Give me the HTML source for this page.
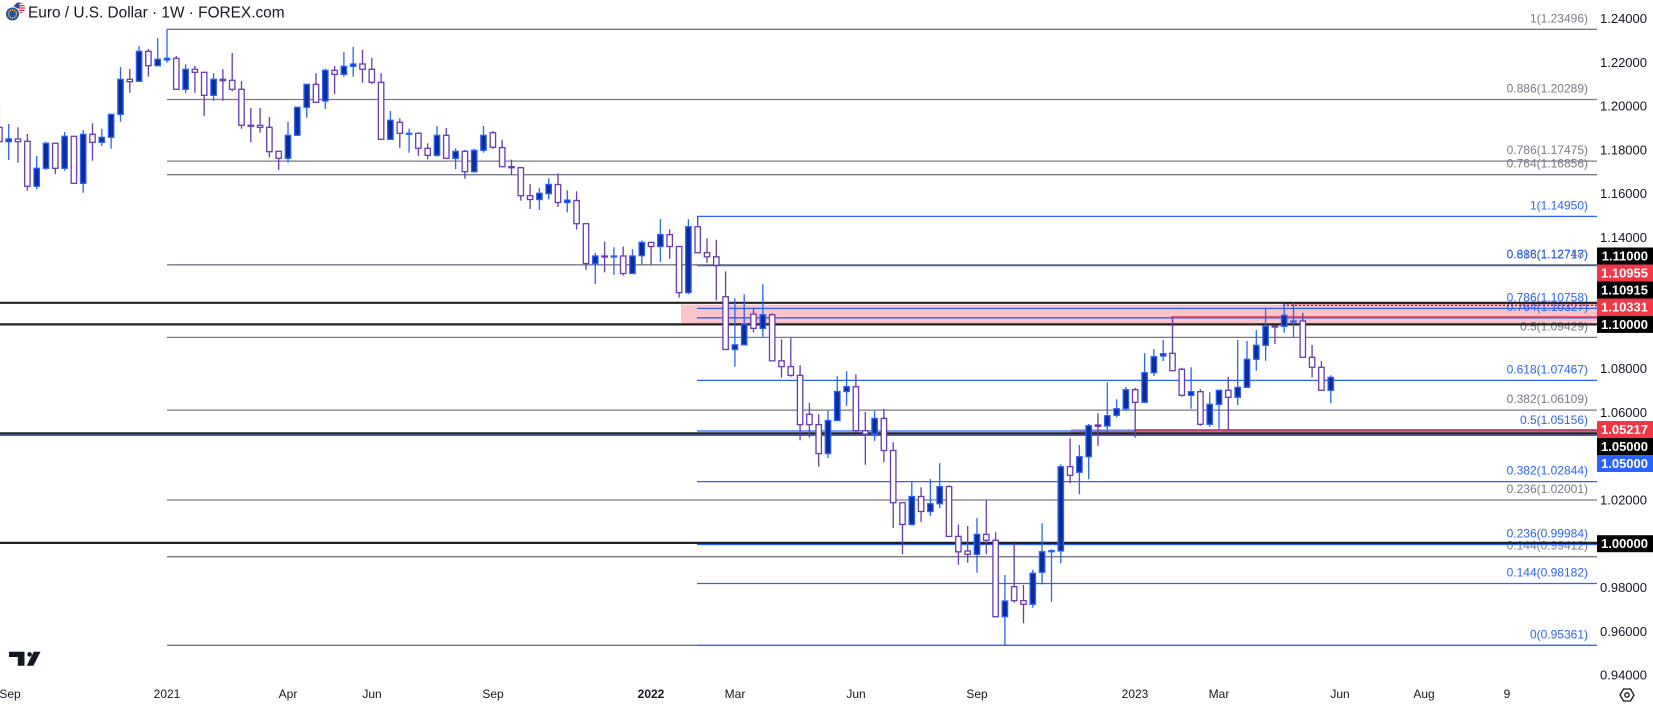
<!DOCTYPE html>
<html><head><meta charset="utf-8"><style>
html,body{margin:0;padding:0;background:#fff;overflow:hidden}
svg{display:block}
text{font-family:"Liberation Sans",sans-serif}
</style></head><body>
<svg width="1653" height="706" viewBox="0 0 1653 706" xmlns="http://www.w3.org/2000/svg">
<rect width="1653" height="706" fill="#fff"/>
<defs><clipPath id="us"><circle cx="19.5" cy="8" r="5.6"/></clipPath></defs>

<!-- pink zones -->
<rect x="681" y="304.5" width="916" height="19.5" fill="#fbc4ca"/>
<rect x="1071" y="429" width="526" height="6.3" fill="#f5aab3"/>

<!-- fib labels -->
<g font-size="12" text-anchor="end" fill="#787b86">
<text x="1588" y="22.3">1(1.23496)</text>
<text x="1588" y="92.5">0.886(1.20289)</text>
<text x="1588" y="154.1">0.786(1.17475)</text>
<text x="1588" y="167.7">0.764(1.16856)</text>
<text x="1588" y="257.8">0.618(1.12748)</text>
<text x="1588" y="330.4">0.5(1.09429)</text>
<text x="1588" y="403.1">0.382(1.06109)</text>
<text x="1588" y="493">0.236(1.02001)</text>
<text x="1588" y="549.7">0.144(0.99412)</text>
</g>
<g font-size="12" text-anchor="end" fill="#2962ff">
<text x="1588" y="209.4">1(1.14950)</text>
<text x="1588" y="258.5">0.886(1.12717)</text>
<text x="1588" y="301.4">0.786(1.10758)</text>
<text x="1588" y="310.8">0.764(1.10327)</text>
<text x="1588" y="373.4">0.618(1.07467)</text>
<text x="1588" y="424">0.5(1.05156)</text>
<text x="1588" y="474.6">0.382(1.02844)</text>
<text x="1588" y="537.4">0.236(0.99984)</text>
<text x="1588" y="576.5">0.144(0.98182)</text>
<text x="1588" y="638.3">0(0.95361)</text>
</g>

<!-- gray fib lines -->
<g stroke="#787b86" stroke-width="1.3">
<path d="M167 29.3H1597M167 99.5H1597M167 161.1H1597M167 174.7H1597M167 264.8H1597M167 337.4H1597M167 410.1H1597M167 500H1597M167 556.7H1597M167 645.3H697"/>
</g>
<!-- blue fib lines -->
<g stroke="#2962ff" stroke-width="1.3">
<path d="M697 216.4H1597M697 265.6H1597M697 308.4H1597M697 317.8H1597M697 380.4H1597M697 431H1597M697 481.6H1597M697 544.5H1597M697 583.5H1597M697 645.3H1597"/>
<path d="M0 435.3H1597"/>
</g>
<!-- red lines -->
<path d="M1171 316.9H1597" stroke="#f23645" stroke-width="1.3"/>
<path d="M1283 303.6H1597" stroke="#f23645" stroke-width="1.2"/>
<path d="M1283 305.4H1597" stroke="#8a2b33" stroke-width="1.3" stroke-dasharray="2 2"/>
<path d="M1135 429.9H1597" stroke="#f23645" stroke-width="1.6"/>
<!-- black horizontal lines -->
<g stroke="#222" stroke-width="2.2">
<path d="M0 302.8H1597M0 324.4H1597M0 433.4H1597M0 542.9H1597"/>
</g>

<!-- candles: wicks -->
<path fill="none" stroke="#2962ff" stroke-width="1.3" d="M8.7 124V160M36.7 156V189.3M46 141.7V170M64.6 132V170.7M83.2 130V192.7M101.8 128.7V146M111.1 114V148.7M120.5 67V121.7M139.1 46V81.3M157.7 38V65.7M167 29.3V62.7M185.6 64.3V93.3M213.6 73.3V100.7M288 122V162.7M297.3 107.3V135.3M306.7 84V117.7M325.3 68.7V109M343.9 52V76.7M353.2 46.7V76.7M390.4 111V139.3M409.1 128.7V152.7M437 126V156.7M455.6 148.3V169.3M474.2 148.7V172.7M483.5 126V152.7M539.4 187.9V210M548.7 178.3V199.5M567.3 190.2V212.4M595.3 252.7V284M613.9 247.2V274.8M632.5 249.2V273.5M641.8 240.4V264.6M660.4 219.2V261.9M688.4 219.2V294.3M734.9 298.4V366.6M744.2 294.3V345.4M762.8 284.4V336.9M828 410.9V458M837.3 376.1V420.5M846.6 371.3V405.8M874.6 410.9V440.9M911.8 481.2V525.5M930.4 479.1V516M939.7 463.1V508.1M977 518V572.7M1004.9 575V646M1032.8 570V607.7M1042.1 523.3V584.3M1051.5 549.3V601.7M1060.8 464.3V563.3M1079.4 445V494.3M1088.7 424V479.3M1107.3 382.3V432.3M1116.6 399.3V417.3M1125.9 386.7V411.3M1144.6 353.3V403.3M1153.9 349V376M1163.2 340V361M1191.1 367.3V408.7M1209.7 392.3V426.7M1219 390V429M1237.7 340V405M1247 341V387.7M1256.3 330V370.7M1265.6 309V360.7M1284.2 304.3V332.7M1293.5 303.3V337.3M1330.8 375.3V403.3"/>
<path fill="none" stroke="#673ab7" stroke-width="1.3" d="M-0.6 102.7V153.3M18 127.3V162.7M27.4 134V190.7M55.3 143.3V174M73.9 136.3V183.7M92.5 123.3V160.7M129.8 69V92.7M148.4 49V76.7M176.3 56V89.3M194.9 66V92.7M204.2 72.3V115.7M222.9 69.3V100.7M232.2 53V91.3M241.5 81V128.7M250.8 108V142M260.1 108V132.7M269.4 117V157.3M278.7 151V170M316 73.3V102.3M334.6 66V94M362.5 50V82.7M371.8 58V84M381.1 73.3V139.3M399.8 118.3V147.7M418.4 132.3V155.7M427.7 143.3V159.3M446.3 128V158.7M464.9 150V178.7M492.9 131V148.7M502.2 139.8V166.7M511.5 159.6V174.9M520.8 166.7V200.8M530.1 184.1V209M558 173.2V207M576.6 191.3V229.5M586 223.7V269.7M604.6 241.7V272.4M623.2 246.5V275.5M651.1 242.4V264.6M669.7 229.5V258.8M679.1 246.5V297.7M697.7 216.9V252.7M707 238.3V262.9M716.3 239.7V300.4M725.6 271.4V349.5M753.5 308.6V332.5M772.2 313.4V360.8M781.5 339.3V377.8M790.8 337.9V376.8M800.1 365.2V440.2M809.4 402.7V437.5M818.7 414.3V466.5M855.9 374.4V432.4M865.3 412V464.8M883.9 408.9V462.4M893.2 442.3V527.9M902.5 502.7V554.2M921.1 487.3V522.1M949 485.3V536.4M958.4 524.5V564.7M967.7 526V562.7M986.3 500V554.3M995.6 532.3V616.7M1014.2 543.3V602.7M1023.5 585V623.3M1070.1 438.3V483.3M1098 413.3V445.7M1135.2 387.7V437.7M1172.5 316.7V370.7M1181.8 367.7V396.7M1200.4 389.3V425.7M1228.3 376.7V430M1274.9 325V344M1302.8 312.7V357.3M1312.1 345V377.3M1321.4 361V390.3"/>

<!-- blue (up) bodies -->
<g fill="#0d2c95" stroke="#2962ff" stroke-width="1.3">
<rect x="6" y="139" width="5.4" height="2.7"/>
<rect x="34" y="168.3" width="5.4" height="18"/>
<rect x="43.3" y="143.3" width="5.4" height="25"/>
<rect x="61.9" y="136.3" width="5.4" height="32"/>
<rect x="80.5" y="134.3" width="5.4" height="49"/>
<rect x="99.1" y="137.3" width="5.4" height="5"/>
<rect x="108.4" y="114.3" width="5.4" height="23"/>
<rect x="117.8" y="79.3" width="5.4" height="35"/>
<rect x="136.4" y="51.3" width="5.4" height="30"/>
<rect x="155" y="59.3" width="5.4" height="6.4"/>
<rect x="164.3" y="58.3" width="5.4" height="1.7"/>
<rect x="182.9" y="69.3" width="5.4" height="20"/>
<rect x="210.9" y="79.3" width="5.4" height="16"/>
<rect x="285.3" y="135.3" width="5.4" height="23"/>
<rect x="294.6" y="107.3" width="5.4" height="28"/>
<rect x="304" y="84.3" width="5.4" height="23"/>
<rect x="322.6" y="70.3" width="5.4" height="30.7"/>
<rect x="341.2" y="66.3" width="5.4" height="8"/>
<rect x="350.5" y="64" width="5.4" height="2.3"/>
<rect x="387.7" y="120.3" width="5.4" height="19"/>
<rect x="406.4" y="133.3" width="5.4" height="1"/>
<rect x="434.3" y="135.3" width="5.4" height="20"/>
<rect x="452.9" y="151.3" width="5.4" height="7"/>
<rect x="471.5" y="150.3" width="5.4" height="21.4"/>
<rect x="480.8" y="135.3" width="5.4" height="15"/>
<rect x="536.7" y="193.3" width="5.4" height="6.2"/>
<rect x="546" y="184.5" width="5.4" height="9.2"/>
<rect x="564.6" y="200.1" width="5.4" height="2.4"/>
<rect x="592.6" y="256" width="5.4" height="7.6"/>
<rect x="611.2" y="256" width="5.4" height="1"/>
<rect x="629.8" y="256" width="5.4" height="17.5"/>
<rect x="639.1" y="242.4" width="5.4" height="13.3"/>
<rect x="657.7" y="234.6" width="5.4" height="11.9"/>
<rect x="685.7" y="226.7" width="5.4" height="65.9"/>
<rect x="732.2" y="344.8" width="5.4" height="4.7"/>
<rect x="741.5" y="324.3" width="5.4" height="20.5"/>
<rect x="760.1" y="314.7" width="5.4" height="13.7"/>
<rect x="825.3" y="420.5" width="5.4" height="33.1"/>
<rect x="834.6" y="391.5" width="5.4" height="29"/>
<rect x="843.9" y="386.7" width="5.4" height="4.8"/>
<rect x="871.9" y="418.4" width="5.4" height="15.7"/>
<rect x="909.1" y="496.5" width="5.4" height="28"/>
<rect x="927.7" y="503.7" width="5.4" height="7.8"/>
<rect x="937" y="486.6" width="5.4" height="17.1"/>
<rect x="974.3" y="534.3" width="5.4" height="20"/>
<rect x="1002.2" y="601" width="5.4" height="15.7"/>
<rect x="1030.1" y="573.3" width="5.4" height="31"/>
<rect x="1039.4" y="551.7" width="5.4" height="20.6"/>
<rect x="1048.8" y="550.7" width="5.4" height="1"/>
<rect x="1058.1" y="466.7" width="5.4" height="84.3"/>
<rect x="1076.7" y="456.7" width="5.4" height="15.6"/>
<rect x="1086" y="425.7" width="5.4" height="31"/>
<rect x="1104.6" y="415.7" width="5.4" height="10.3"/>
<rect x="1113.9" y="408.7" width="5.4" height="6.6"/>
<rect x="1123.2" y="389.7" width="5.4" height="19"/>
<rect x="1141.9" y="372.7" width="5.4" height="29.6"/>
<rect x="1151.2" y="356.7" width="5.4" height="16"/>
<rect x="1160.5" y="353.7" width="5.4" height="2.3"/>
<rect x="1188.4" y="391.7" width="5.4" height="3.6"/>
<rect x="1207" y="404.3" width="5.4" height="20"/>
<rect x="1216.3" y="390.3" width="5.4" height="14"/>
<rect x="1235" y="387.3" width="5.4" height="10"/>
<rect x="1244.3" y="359.3" width="5.4" height="28"/>
<rect x="1253.6" y="345.3" width="5.4" height="14"/>
<rect x="1262.9" y="326.3" width="5.4" height="19"/>
<rect x="1281.5" y="315.3" width="5.4" height="11"/>
<rect x="1290.8" y="321" width="5.4" height="1"/>
<rect x="1328.1" y="377.3" width="5.4" height="13"/>
</g>

<!-- purple (down) bodies -->
<g fill="#fff" stroke="#673ab7" stroke-width="1.3">
<rect x="-3.3" y="127.3" width="5.4" height="14.4"/>
<rect x="15.3" y="139" width="5.4" height="2.7"/>
<rect x="24.7" y="141.3" width="5.4" height="45"/>
<rect x="52.6" y="143.3" width="5.4" height="25"/>
<rect x="71.2" y="136.3" width="5.4" height="47"/>
<rect x="89.8" y="134.3" width="5.4" height="8"/>
<rect x="127.1" y="79.3" width="5.4" height="2.4"/>
<rect x="145.7" y="51.3" width="5.4" height="14.4"/>
<rect x="173.6" y="58.3" width="5.4" height="31"/>
<rect x="192.2" y="69.3" width="5.4" height="3"/>
<rect x="201.5" y="72.3" width="5.4" height="23"/>
<rect x="220.2" y="79.3" width="5.4" height="1.4"/>
<rect x="229.5" y="80.3" width="5.4" height="9"/>
<rect x="238.8" y="89.3" width="5.4" height="36"/>
<rect x="248.1" y="125.3" width="5.4" height="1"/>
<rect x="257.4" y="125.3" width="5.4" height="2"/>
<rect x="266.7" y="127.3" width="5.4" height="24.4"/>
<rect x="276" y="151.3" width="5.4" height="7"/>
<rect x="313.3" y="84.3" width="5.4" height="18"/>
<rect x="331.9" y="70.3" width="5.4" height="4"/>
<rect x="359.8" y="64" width="5.4" height="5.3"/>
<rect x="369.1" y="69.3" width="5.4" height="13"/>
<rect x="378.4" y="82.3" width="5.4" height="57"/>
<rect x="397.1" y="122.3" width="5.4" height="11"/>
<rect x="415.7" y="133.3" width="5.4" height="15"/>
<rect x="425" y="148.3" width="5.4" height="7"/>
<rect x="443.6" y="135.3" width="5.4" height="23"/>
<rect x="462.2" y="151.3" width="5.4" height="20.4"/>
<rect x="490.2" y="132.7" width="5.4" height="14.6"/>
<rect x="499.5" y="147.6" width="5.4" height="19.1"/>
<rect x="508.8" y="166.7" width="5.4" height="1"/>
<rect x="518.1" y="167.7" width="5.4" height="28"/>
<rect x="527.4" y="195.7" width="5.4" height="3.8"/>
<rect x="555.3" y="184.5" width="5.4" height="18"/>
<rect x="573.9" y="200.5" width="5.4" height="23.2"/>
<rect x="583.3" y="223.7" width="5.4" height="39.9"/>
<rect x="601.9" y="256" width="5.4" height="1"/>
<rect x="620.5" y="256" width="5.4" height="17.5"/>
<rect x="648.4" y="242.4" width="5.4" height="4.1"/>
<rect x="667" y="234.6" width="5.4" height="11.9"/>
<rect x="676.4" y="246.5" width="5.4" height="46.1"/>
<rect x="695" y="226.7" width="5.4" height="26"/>
<rect x="704.3" y="252.7" width="5.4" height="4.1"/>
<rect x="713.6" y="256.8" width="5.4" height="8.5"/>
<rect x="722.9" y="296.7" width="5.4" height="52.8"/>
<rect x="750.8" y="314.1" width="5.4" height="14.3"/>
<rect x="769.5" y="314.7" width="5.4" height="46.1"/>
<rect x="778.8" y="360.8" width="5.4" height="5.8"/>
<rect x="788.1" y="366.6" width="5.4" height="8.8"/>
<rect x="797.4" y="375.4" width="5.4" height="49.2"/>
<rect x="806.7" y="414.3" width="5.4" height="10.3"/>
<rect x="816" y="424.6" width="5.4" height="29"/>
<rect x="853.2" y="386.7" width="5.4" height="44"/>
<rect x="862.6" y="430.7" width="5.4" height="3.4"/>
<rect x="881.2" y="418.4" width="5.4" height="32.1"/>
<rect x="890.5" y="450.5" width="5.4" height="52.2"/>
<rect x="899.8" y="502.7" width="5.4" height="21.8"/>
<rect x="918.4" y="496.5" width="5.4" height="15"/>
<rect x="946.3" y="486.6" width="5.4" height="49.8"/>
<rect x="955.7" y="536.4" width="5.4" height="15.4"/>
<rect x="965" y="551" width="5.4" height="3.3"/>
<rect x="983.6" y="534.3" width="5.4" height="6"/>
<rect x="992.9" y="540.3" width="5.4" height="76.4"/>
<rect x="1011.5" y="586.7" width="5.4" height="14"/>
<rect x="1020.8" y="600.7" width="5.4" height="3.6"/>
<rect x="1067.4" y="466.7" width="5.4" height="8.6"/>
<rect x="1095.3" y="425" width="5.4" height="1.3"/>
<rect x="1132.5" y="389.7" width="5.4" height="12.6"/>
<rect x="1169.8" y="353.3" width="5.4" height="17.4"/>
<rect x="1179.1" y="369.3" width="5.4" height="26"/>
<rect x="1197.7" y="391.7" width="5.4" height="32.6"/>
<rect x="1225.6" y="390.3" width="5.4" height="7"/>
<rect x="1272.2" y="326" width="5.4" height="1"/>
<rect x="1300.1" y="321" width="5.4" height="36.3"/>
<rect x="1309.4" y="357.3" width="5.4" height="10"/>
<rect x="1318.7" y="367.3" width="5.4" height="23"/>
</g>

<!-- price axis -->
<rect x="1597" y="0" width="56" height="706" fill="#fff"/>
<g font-size="13" text-anchor="end" fill="#131722">
<text x="1647" y="23">1.24000</text>
<text x="1647" y="66.8">1.22000</text>
<text x="1647" y="110.6">1.20000</text>
<text x="1647" y="154.3">1.18000</text>
<text x="1647" y="198.1">1.16000</text>
<text x="1647" y="241.9">1.14000</text>
<text x="1647" y="373.2">1.08000</text>
<text x="1647" y="417">1.06000</text>
<text x="1647" y="504.6">1.02000</text>
<text x="1647" y="592.1">0.98000</text>
<text x="1647" y="635.9">0.96000</text>
<text x="1647" y="679.7">0.94000</text>
</g>
<rect x="1597" y="247.5" width="56" height="17" fill="#000"/>
<rect x="1597" y="264.5" width="56" height="17" fill="#f23645"/>
<rect x="1597" y="281.5" width="56" height="17" fill="#000"/>
<rect x="1597" y="298.5" width="56" height="17.4" fill="#f23645"/>
<rect x="1597" y="315.9" width="56" height="17" fill="#000"/>
<rect x="1597" y="421" width="56" height="17" fill="#f23645"/>
<rect x="1597" y="438" width="56" height="17" fill="#000"/>
<rect x="1597" y="455" width="56" height="17" fill="#2962ff"/>
<rect x="1597" y="535.2" width="56" height="17" fill="#000"/>
<g font-size="13" font-weight="bold" text-anchor="end" fill="#fff">
<text x="1648" y="260.5">1.11000</text>
<text x="1648" y="277.5">1.10955</text>
<text x="1648" y="294.5">1.10915</text>
<text x="1648" y="311.5">1.10331</text>
<text x="1648" y="328.9">1.10000</text>
<text x="1648" y="434">1.05217</text>
<text x="1648" y="451">1.05000</text>
<text x="1648" y="468">1.05000</text>
<text x="1648" y="548.2">1.00000</text>
</g>

<!-- time axis -->
<g font-size="12" text-anchor="middle" fill="#131722">
<text x="10" y="698">Sep</text>
<text x="167" y="698">2021</text>
<text x="288" y="698">Apr</text>
<text x="372" y="698">Jun</text>
<text x="493" y="698">Sep</text>
<text x="651" y="698" font-weight="bold">2022</text>
<text x="735" y="698">Mar</text>
<text x="856" y="698">Jun</text>
<text x="977" y="698">Sep</text>
<text x="1135" y="698">2023</text>
<text x="1219" y="698">Mar</text>
<text x="1340" y="698">Jun</text>
<text x="1424" y="698">Aug</text>
<text x="1507" y="698">9</text>
</g>
<!-- settings icon -->
<g fill="none" stroke="#131722" stroke-width="1.3">
<polygon points="1620,695 1623.5,689 1630.5,689 1634,695 1630.5,701 1623.5,701"/>
<circle cx="1627" cy="695" r="2.2"/>
</g>

<!-- TV logo -->
<g fill="#131722">
<path d="M9 651.7H24.5V665.7H17.8V657H9Z"/>
<circle cx="29.6" cy="654.4" r="2.3"/>
<path d="M33.8 651.7H40.5L33.4 665.7H26.7Z"/>
</g>

<!-- title -->
<g clip-path="url(#us)">
<rect x="13" y="2" width="13" height="13" fill="#fff"/>
<path d="M13 3.2H26M13 5.6H26M13 8H26M13 10.4H26M13 12.8H26" stroke="#d8334a" stroke-width="1.2"/>
<rect x="13" y="2" width="6.5" height="6" fill="#2b4ea2"/>
</g>
<circle cx="12.5" cy="14" r="7.2" fill="#fff"/>
<circle cx="12.5" cy="14" r="6.5" fill="#2451a8"/>
<g fill="#ffd42a">
<circle cx="12.5" cy="10" r="0.7"/><circle cx="14.5" cy="10.5" r="0.7"/><circle cx="16" cy="12" r="0.7"/><circle cx="16.5" cy="14" r="0.7"/><circle cx="16" cy="16" r="0.7"/><circle cx="14.5" cy="17.5" r="0.7"/><circle cx="12.5" cy="18" r="0.7"/><circle cx="10.5" cy="17.5" r="0.7"/><circle cx="9" cy="16" r="0.7"/><circle cx="8.5" cy="14" r="0.7"/><circle cx="9" cy="12" r="0.7"/><circle cx="10.5" cy="10.5" r="0.7"/>
</g>
<text x="28" y="17.5" font-size="15.4" fill="#131722">Euro / U.S. Dollar · 1W · FOREX.com</text>
</svg>
</body></html>
